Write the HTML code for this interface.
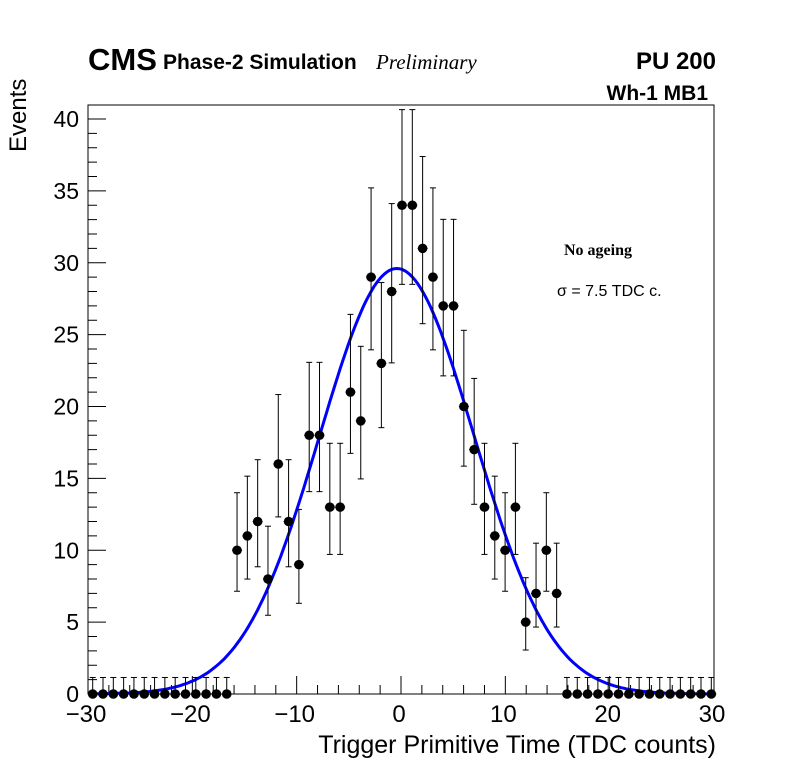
<!DOCTYPE html>
<html><head><meta charset="utf-8"><style>
body{margin:0;background:#fff;}
svg text{font-family:"Liberation Sans",sans-serif;}
</style></head><body>
<svg id="c" width="796" height="772" xmlns="http://www.w3.org/2000/svg">
<rect x="0" y="0" width="796" height="772" fill="#fff"/>
<rect x="88" y="105" width="626" height="589" fill="none" stroke="#000" stroke-width="1"/>
<text x="88" y="70" font-size="31" font-weight="bold">CMS</text>
<text x="163" y="69" font-size="21" font-weight="bold">Phase-2 Simulation</text>
<text x="376" y="69" font-size="21" font-style="italic" style="font-family:'Liberation Serif',serif">Preliminary</text>
<text x="716" y="69" font-size="24" font-weight="bold" text-anchor="end">PU 200</text>
<text x="708" y="100" font-size="21" font-weight="bold" text-anchor="end">Wh-1 MB1</text>
<text x="564" y="255" font-size="16" font-weight="bold" style="font-family:'Liberation Serif',serif">No ageing</text>
<text x="557" y="296" font-size="16">σ = 7.5 TDC c.</text>
<text transform="translate(26,152) rotate(-90)" font-size="24">Events</text>
<text x="716" y="753" font-size="25" text-anchor="end">Trigger Primitive Time (TDC counts)</text>
<g id="axes"></g>
<g id="marks"></g>
</svg>
<script>
const binCenters = [-30,-29,-28,-27,-26,-25,-24,-23,-22,-21,-20,-19,-18,-17,-16,-15,-14,-13,-12,-11,-10,-9,-8,-7,-6,-5,-4,-3,-2,-1,0,1,2,3,4,5,6,7,8,9,10,11,12,13,14,15,16,17,18,19,20,21,22,23,24,25,26,27,28,29,30];
const counts = [0,0,0,0,0,0,0,0,0,0,0,0,0,0,10,11,12,8,16,12,9,18,18,13,13,21,19,29,23,28,34,34,31,29,27,27,20,17,13,11,10,13,5,7,10,7,0,0,0,0,0,0,0,0,0,0,0,0,0,0,0];
const xTicks = [-30,-20,-10,0,10,20,30];
const xTickLabels = ["\u221230","\u221220","\u221210","0","10","20","30"];
const yTicks = [0,5,10,15,20,25,30,35,40];
const fitAmp = [29.6];
const fitMean = [-0.5];
const fitSigma = [7.5];

const NS="http://www.w3.org/2000/svg";
function xAxis(v){return 88+(v+30)*626/60;}
function xBin(v){return 92.7+(v+30)*10.31;}
function yAxis(v){return 694-v*14.375;}
function mk(tag,attrs,parent){const e=document.createElementNS(NS,tag);for(const k in attrs)e.setAttribute(k,attrs[k]);parent.appendChild(e);return e;}
const axes=document.getElementById('axes'), marks=document.getElementById('marks');
for(let v=-30;v<=30;v+=2){
  const major=(v%10===0);
  const t=mk('line',{x1:xAxis(v),x2:xAxis(v),y1:694,y2:694-(major?18:9),stroke:'#000','stroke-width':1},axes);
  
  
}
xTicks.forEach((v,i)=>{
  const t=mk('text',{x:xAxis(v)-2,y:722,'font-size':24,'text-anchor':'middle'},axes);
  t.textContent=xTickLabels[i];
  
  
});
for(let v=0;v<=40;v+=1){
  const major=(v%5===0);
  const t=mk('line',{x1:88,x2:88+(major?18:9),y1:yAxis(v),y2:yAxis(v),stroke:'#000','stroke-width':1},axes);
  
  
}
yTicks.forEach(v=>{
  const t=mk('text',{x:79,y:yAxis(v)+8,'font-size':23,'text-anchor':'end'},axes);
  t.textContent=String(v);
  
  
});
let d='';
for(let x=-30;x<=30.001;x+=0.25){
  const y=fitAmp[0]*Math.exp(-Math.pow(x-fitMean[0],2)/(2*fitSigma[0]*fitSigma[0]));
  d+=(d?'L':'M')+xBin(x).toFixed(1)+','+yAxis(y).toFixed(1);
}
const fit=mk('path',{d:d,fill:'none',stroke:'#0000ff','stroke-width':3},marks);


binCenters.forEach((c,i)=>{
  const n=counts[i];
  const px=xBin(c), py=yAxis(n);
  const lo = n>0 ? n-Math.sqrt(n+0.25)+0.35 : 0;
  const hi = n>0 ? n+Math.sqrt(n+0.25)+0.8 : 1.15;
  const g=mk('g',{},marks);
  
  
  mk('line',{x1:px,x2:px,y1:yAxis(lo),y2:yAxis(hi),stroke:'#000','stroke-width':1},g);
  mk('line',{x1:px-3,x2:px+3,y1:yAxis(hi),y2:yAxis(hi),stroke:'#000','stroke-width':1},g);
  if(n>0) mk('line',{x1:px-3,x2:px+3,y1:yAxis(lo),y2:yAxis(lo),stroke:'#000','stroke-width':1},g);
  mk('line',{x1:px-5,x2:px+5,y1:py,y2:py,stroke:'#000','stroke-width':1},g);
  mk('circle',{cx:px,cy:py,r:4.8,fill:'#000'},g);
});
</script>
</body></html>
